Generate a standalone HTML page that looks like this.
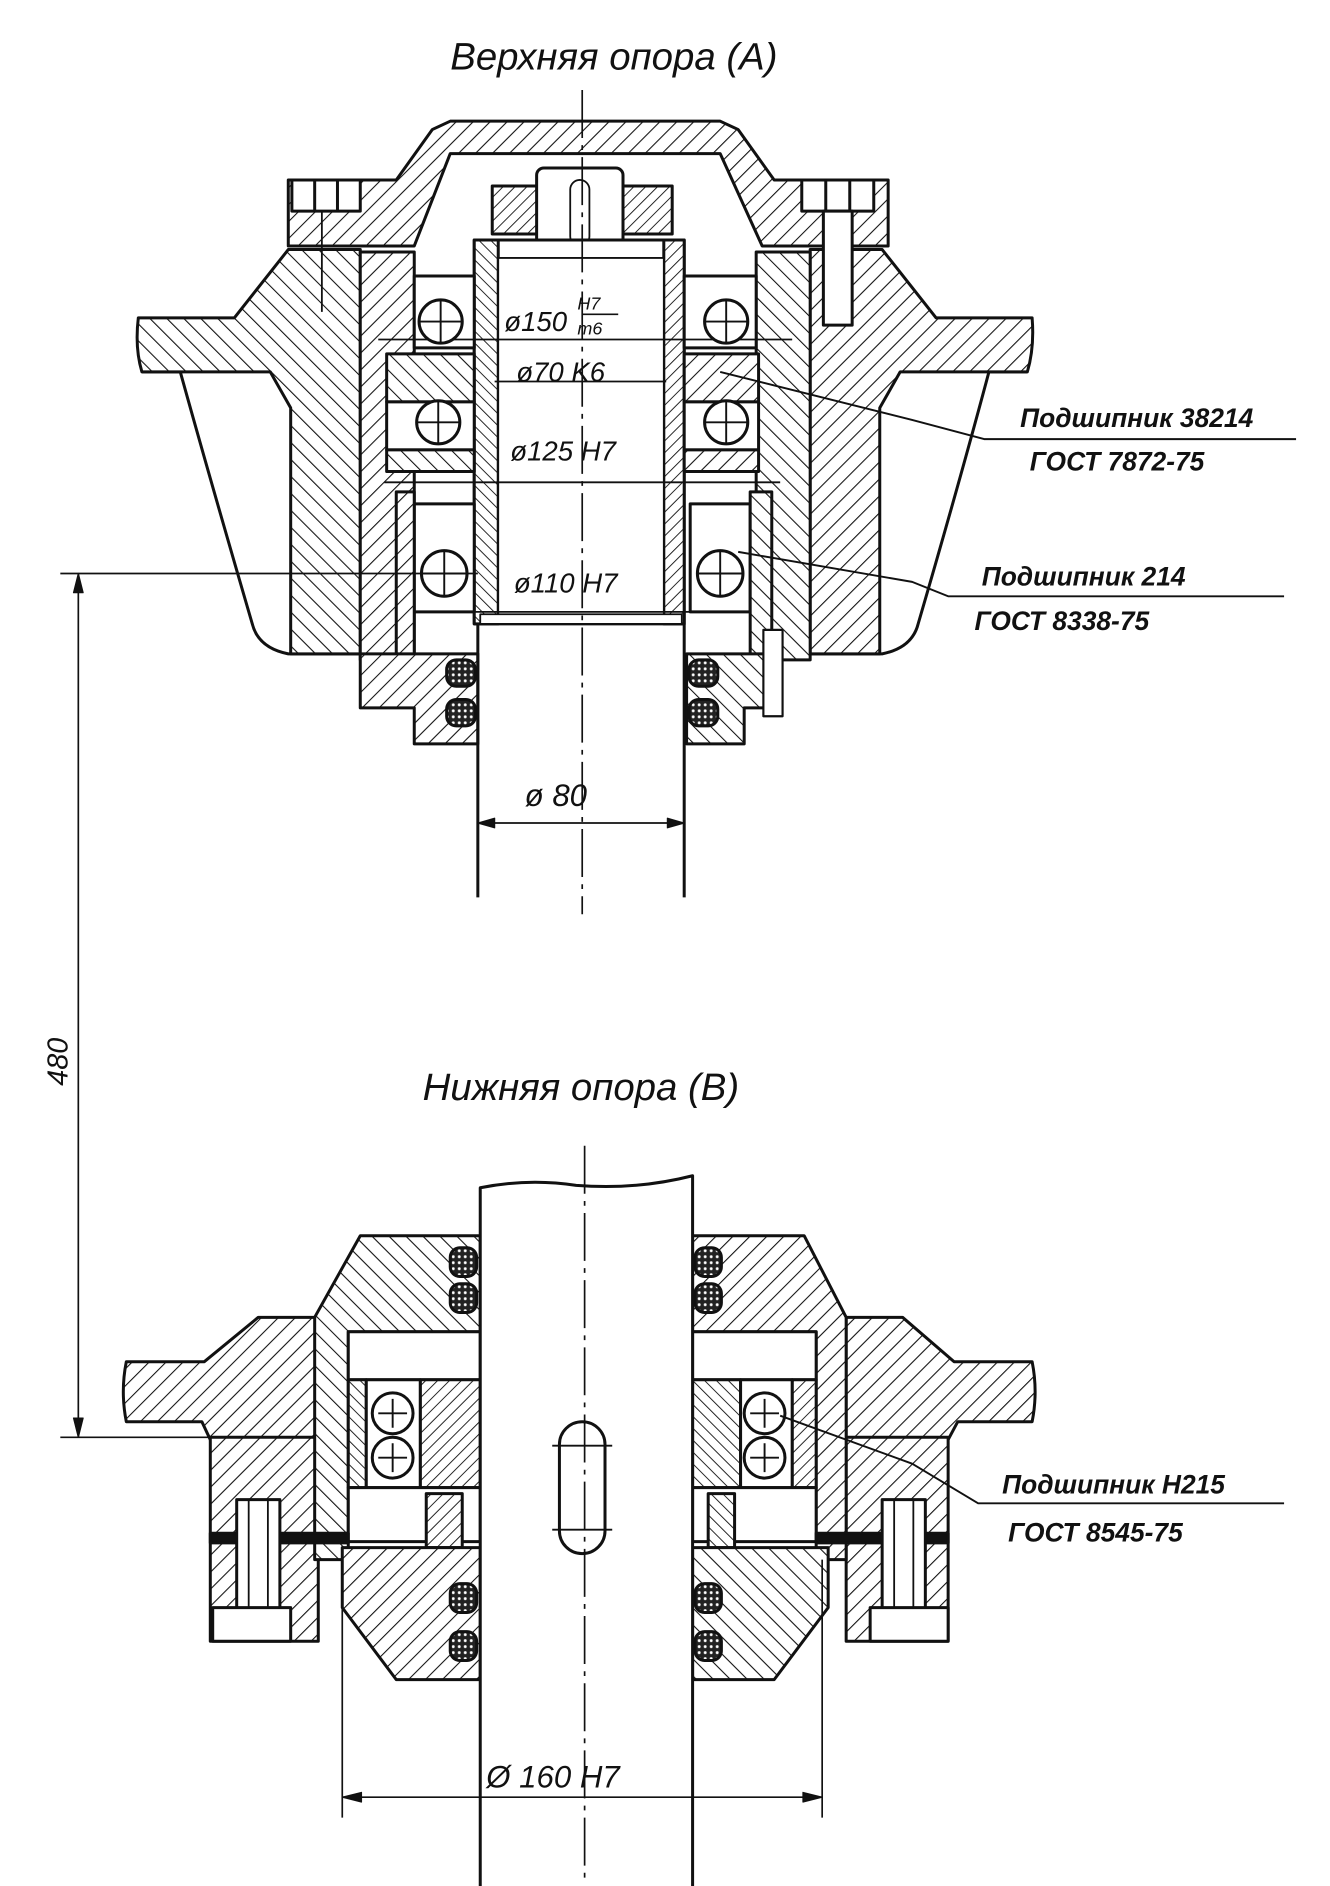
<!DOCTYPE html>
<html><head><meta charset="utf-8"><style>
html,body{margin:0;padding:0;background:#fff;}
svg{display:block;}
text{font-family:"Liberation Sans","DejaVu Sans",sans-serif;font-style:italic;fill:#111;}
</style></head><body>
<svg width="1330" height="1886" viewBox="0 0 1108 1572" xmlns="http://www.w3.org/2000/svg">
<defs>
<pattern id="h1" patternUnits="userSpaceOnUse" width="10" height="10" patternTransform="rotate(45)">
<rect width="10" height="10" fill="#fff"/><line x1="0" y1="0" x2="0" y2="10" stroke="#111" stroke-width="1.8"/></pattern>
<pattern id="h2" patternUnits="userSpaceOnUse" width="10" height="10" patternTransform="rotate(-45)">
<rect width="10" height="10" fill="#fff"/><line x1="0" y1="0" x2="0" y2="10" stroke="#111" stroke-width="1.8"/></pattern>
<pattern id="h3" patternUnits="userSpaceOnUse" width="7" height="7" patternTransform="rotate(45)">
<rect width="7" height="7" fill="#fff"/><line x1="0" y1="0" x2="0" y2="7" stroke="#111" stroke-width="1.5"/></pattern>
<pattern id="h4" patternUnits="userSpaceOnUse" width="7" height="7" patternTransform="rotate(-45)">
<rect width="7" height="7" fill="#fff"/><line x1="0" y1="0" x2="0" y2="7" stroke="#111" stroke-width="1.5"/></pattern>
<pattern id="dots" patternUnits="userSpaceOnUse" width="5" height="5">
<rect width="5" height="5" fill="#222"/><circle cx="2.5" cy="2.5" r="1.2" fill="#fff"/></pattern>
</defs>
<g stroke="#111" stroke-width="2.5" stroke-linejoin="round">

<!-- ===== TOP ASSEMBLY ===== -->
<text x="375" y="58" font-size="32" stroke="none">Верхняя опора (A)</text>

<!-- skirt outlines -->
<path d="M118 310 L150 310 Q175 400 210 520 Q215 540 240 545 L300 545" fill="none"/>
<path d="M856 310 L824 310 Q800 400 765 520 Q760 540 735 545 L675 545" fill="none"/>
<!-- left housing -->
<path d="M115 265 L195 265 L240 208 L300 208 L300 545 L242 545 L242 340 L225 310 L118 310 Q112 290 115 265 Z" fill="url(#h2)"/>
<!-- right housing -->
<path d="M860 265 L780 265 L735 208 L675 208 L675 545 L733 545 L733 340 L750 310 L856 310 Q862 290 860 265 Z" fill="url(#h1)"/>
<!-- sleeves -->
<rect x="300" y="210" width="45" height="340" fill="url(#h1)"/>
<rect x="630" y="210" width="45" height="340" fill="url(#h2)"/>
<!-- cap dome -->
<path d="M240 150 L330 150 L360 108 L375 101 L600 101 L615 108 L645 150 L740 150 L740 205 L635 205 L600 128 L375 128 L345 205 L240 205 Z" fill="url(#h1)"/>
<!-- bolts -->
<rect x="243" y="150" width="57" height="26" fill="#fff"/>
<line x1="262" y1="150" x2="262" y2="176"/><line x1="281" y1="150" x2="281" y2="176"/>
<rect x="668" y="150" width="60" height="26" fill="#fff"/>
<line x1="688" y1="150" x2="688" y2="176"/><line x1="708" y1="150" x2="708" y2="176"/>
<rect x="686" y="176" width="24" height="95" fill="#fff"/>
<line x1="268" y1="176" x2="268" y2="260" stroke-width="1.5"/>
<!-- nut -->
<path d="M410 155 L560 155 L560 195 L410 195 Z" fill="url(#h3)"/>
<rect x="447" y="140" width="72" height="78" rx="6" fill="#fff"/>
<rect x="475" y="150" width="16" height="55" rx="8" fill="#fff" stroke-width="1.5"/>
<!-- inner shaft tube -->
<rect x="395" y="200" width="175" height="320" fill="#fff"/>
<rect x="395" y="200" width="20" height="320" fill="url(#h4)"/>
<rect x="553" y="200" width="17" height="320" fill="url(#h3)"/>
<rect x="415" y="215" width="138" height="300" fill="#fff" stroke-width="1.5"/>
<!-- upper bearing races -->
<rect x="345" y="230" width="50" height="60" fill="#fff"/>
<rect x="570" y="230" width="60" height="60" fill="#fff"/>
<line x1="315" y1="283" x2="660" y2="283" stroke-width="1.5"/>
<!-- tapered bearing rings -->
<rect x="322" y="295" width="73" height="40" fill="url(#h2)"/>
<rect x="570" y="295" width="62" height="40" fill="url(#h1)"/>
<rect x="322" y="335" width="73" height="40" fill="#fff"/>
<rect x="570" y="335" width="62" height="40" fill="#fff"/>
<rect x="322" y="375" width="73" height="18" fill="url(#h2)"/>
<rect x="570" y="375" width="62" height="18" fill="url(#h1)"/>
<line x1="320" y1="402" x2="650" y2="402" stroke-width="1.5"/>
<!-- lower bearing -->
<rect x="345" y="420" width="50" height="90" fill="#fff"/>
<rect x="575" y="420" width="50" height="90" fill="#fff"/>
<rect x="330" y="410" width="15" height="140" fill="url(#h1)"/>
<rect x="625" y="410" width="18" height="140" fill="url(#h2)"/>
<line x1="350" y1="510" x2="620" y2="510" stroke-width="1.5"/>
<!-- balls -->
<g fill="#fff">
<circle cx="367" cy="268" r="18"/><circle cx="605" cy="268" r="18"/>
<circle cx="365" cy="352" r="18"/><circle cx="605" cy="352" r="18"/>
<circle cx="370" cy="478" r="19"/><circle cx="600" cy="478" r="19"/>
</g>
<g stroke-width="1.6">
<path d="M349 268 H385 M367 250 V286 M587 268 H623 M605 250 V286 M347 352 H383 M365 334 V370 M587 352 H623 M605 334 V370 M351 478 H389 M370 459 V497 M581 478 H619 M600 459 V497"/>
</g>
<!-- lower seal housing -->
<path d="M300 545 L398 545 L398 620 L345 620 L345 590 L300 590 Z" fill="url(#h1)"/>
<path d="M572 545 L645 545 L645 590 L620 590 L620 620 L572 620 Z" fill="url(#h2)"/>
<rect x="372" y="550" width="24" height="22" rx="8" fill="url(#dots)"/>
<rect x="372" y="583" width="24" height="22" rx="8" fill="url(#dots)"/>
<rect x="574" y="550" width="24" height="22" rx="8" fill="url(#dots)"/>
<rect x="574" y="583" width="24" height="22" rx="8" fill="url(#dots)"/>
<rect x="636" y="525" width="16" height="72" fill="#fff" stroke-width="1.8"/>
<!-- lower shaft -->
<path d="M398 520 L398 748 M570 520 L570 748" fill="none"/>
<rect x="400" y="512" width="168" height="8" fill="#fff" stroke-width="1.5"/>
<!-- centerline -->
<line x1="485" y1="75" x2="485" y2="762" stroke-width="1.4" stroke-dasharray="40 6 4 6"/>

<!-- dims top -->
<g stroke="none" font-size="23">
<text x="420" y="276">ø150</text>
<text x="481" y="258" font-size="15">H7</text>
<text x="481" y="279" font-size="15">m6</text>
<text x="430" y="318">ø70 K6</text>
<text x="425" y="384">ø125 H7</text>
<text x="428" y="494">ø110 H7</text>
<text x="437" y="672" font-size="26">ø 80</text>
</g>
<line x1="485" y1="262" x2="515" y2="262" stroke-width="1.4"/>
<line x1="412" y1="318" x2="555" y2="318" stroke-width="1.4"/>
<line x1="398" y1="686" x2="570" y2="686" stroke-width="1.4"/>
<path d="M398 686 l14 -4 v8 z M570 686 l-14 -4 v8 z" fill="#111" stroke-width="1"/>

<!-- leaders top -->
<path d="M600 310 L760 350 L820 366 L1080 366" fill="none" stroke-width="1.6"/>
<path d="M615 460 L760 485 L790 497 L1070 497" fill="none" stroke-width="1.6"/>
<g stroke="none" font-size="22" font-weight="bold">
<text x="850" y="356">Подшипник 38214</text>
<text x="858" y="392">ГОСТ 7872-75</text>
<text x="818" y="488">Подшипник 214</text>
<text x="812" y="525">ГОСТ 8338-75</text>
</g>

<!-- 480 dimension -->
<line x1="50" y1="478" x2="398" y2="478" stroke-width="1.4"/>
<line x1="50" y1="1198" x2="300" y2="1198" stroke-width="1.4"/>
<line x1="65" y1="478" x2="65" y2="1198" stroke-width="1.4"/>
<path d="M65 478 l-4 16 h8 z M65 1198 l-4 -16 h8 z" fill="#111" stroke-width="1"/>
<text x="0" y="0" font-size="24" stroke="none" transform="translate(56 905) rotate(-90)">480</text>

<!-- ===== BOTTOM ASSEMBLY ===== -->
<text x="352" y="917" font-size="32" stroke="none">Нижняя опора (B)</text>
<!-- flanges -->
<path d="M105 1135 L170 1135 L215 1098 L265 1098 L265 1200 L175 1200 L168 1185 L105 1185 Q100 1160 105 1135 Z" fill="url(#h1)"/>
<path d="M860 1135 L795 1135 L752 1098 L705 1098 L705 1200 L790 1200 L798 1185 L860 1185 Q865 1160 860 1135 Z" fill="url(#h1)"/>
<!-- body left/right -->
<rect x="175" y="1198" width="90" height="170" fill="url(#h1)"/>
<rect x="705" y="1198" width="85" height="170" fill="url(#h1)"/>
<!-- upper cap -->
<path d="M262 1098 L300 1030 L400 1030 L400 1110 L290 1110 L290 1300 L262 1300 Z" fill="url(#h2)"/>
<path d="M705 1098 L670 1030 L577 1030 L577 1110 L680 1110 L680 1300 L705 1300 Z" fill="url(#h1)"/>
<!-- bearing housings -->
<rect x="290" y="1110" width="110" height="40" fill="#fff"/>
<rect x="577" y="1110" width="103" height="40" fill="#fff"/>
<rect x="290" y="1150" width="15" height="90" fill="url(#h4)"/>
<rect x="350" y="1150" width="50" height="90" fill="url(#h3)"/>
<rect x="577" y="1150" width="40" height="90" fill="url(#h4)"/>
<rect x="660" y="1150" width="20" height="90" fill="url(#h3)"/>
<rect x="305" y="1150" width="45" height="90" fill="#fff"/>
<rect x="617" y="1150" width="43" height="90" fill="#fff"/>
<g fill="#fff"><circle cx="327" cy="1178" r="17"/><circle cx="327" cy="1215" r="17"/><circle cx="637" cy="1178" r="17"/><circle cx="637" cy="1215" r="17"/></g>
<path d="M315 1178 H339 M327 1166 V1190 M315 1215 H339 M327 1203 V1227 M625 1178 H649 M637 1166 V1190 M625 1215 H649 M637 1203 V1227" stroke-width="1.6"/>
<!-- spacer region -->
<rect x="290" y="1240" width="110" height="45" fill="#fff"/>
<rect x="577" y="1240" width="103" height="45" fill="#fff"/>
<path d="M355 1245 L385 1245 L385 1290 L355 1290 Z" fill="url(#h3)"/>
<path d="M590 1245 L612 1245 L612 1290 L590 1290 Z" fill="url(#h4)"/>
<!-- gasket line -->
<rect x="175" y="1278" width="115" height="8" fill="#111"/>
<rect x="680" y="1278" width="110" height="8" fill="#111"/>
<!-- lower cap -->
<path d="M285 1290 L400 1290 L400 1400 L330 1400 L285 1340 Z" fill="url(#h1)"/>
<path d="M577 1290 L690 1290 L690 1340 L645 1400 L577 1400 Z" fill="url(#h2)"/>
<!-- bolts -->
<rect x="197" y="1250" width="36" height="115" fill="#fff"/>
<line x1="207" y1="1250" x2="207" y2="1365" stroke-width="1.5"/><line x1="223" y1="1250" x2="223" y2="1365" stroke-width="1.5"/>
<rect x="177" y="1340" width="65" height="28" fill="#fff"/>
<rect x="735" y="1250" width="36" height="115" fill="#fff"/>
<line x1="745" y1="1250" x2="745" y2="1365" stroke-width="1.5"/><line x1="761" y1="1250" x2="761" y2="1365" stroke-width="1.5"/>
<rect x="725" y="1340" width="65" height="28" fill="#fff"/>
<!-- seals -->
<g fill="url(#dots)">
<rect x="375" y="1040" width="22" height="24" rx="8"/><rect x="375" y="1070" width="22" height="24" rx="8"/>
<rect x="579" y="1040" width="22" height="24" rx="8"/><rect x="579" y="1070" width="22" height="24" rx="8"/>
<rect x="375" y="1320" width="22" height="24" rx="8"/><rect x="375" y="1360" width="22" height="24" rx="8"/>
<rect x="579" y="1320" width="22" height="24" rx="8"/><rect x="579" y="1360" width="22" height="24" rx="8"/>
</g>
<!-- shaft -->
<path d="M400 1572 L400 990 Q440 982 480 988 Q530 992 577 980 L577 1572" fill="#fff"/>
<rect x="466" y="1185" width="38" height="110" rx="19" fill="#fff"/>
<line x1="460" y1="1205" x2="510" y2="1205" stroke-width="1.5"/>
<line x1="460" y1="1275" x2="510" y2="1275" stroke-width="1.5"/>
<line x1="487" y1="955" x2="487" y2="1570" stroke-width="1.4" stroke-dasharray="40 6 4 6"/>
<!-- Ø160 dim -->
<line x1="285" y1="1300" x2="285" y2="1515" stroke-width="1.4"/>
<line x1="685" y1="1300" x2="685" y2="1515" stroke-width="1.4"/>
<line x1="285" y1="1498" x2="685" y2="1498" stroke-width="1.4"/>
<path d="M285 1498 l16 -4 v8 z M685 1498 l-16 -4 v8 z" fill="#111" stroke-width="1"/>
<text x="405" y="1490" font-size="26" stroke="none">Ø 160 H7</text>
<!-- leader -->
<path d="M650 1180 L760 1220 L815 1253 L1070 1253" fill="none" stroke-width="1.6"/>
<g stroke="none" font-size="22" font-weight="bold">
<text x="835" y="1245">Подшипник Н215</text>
<text x="840" y="1285">ГОСТ 8545-75</text>
</g>
</g>
</svg>
</body></html>
